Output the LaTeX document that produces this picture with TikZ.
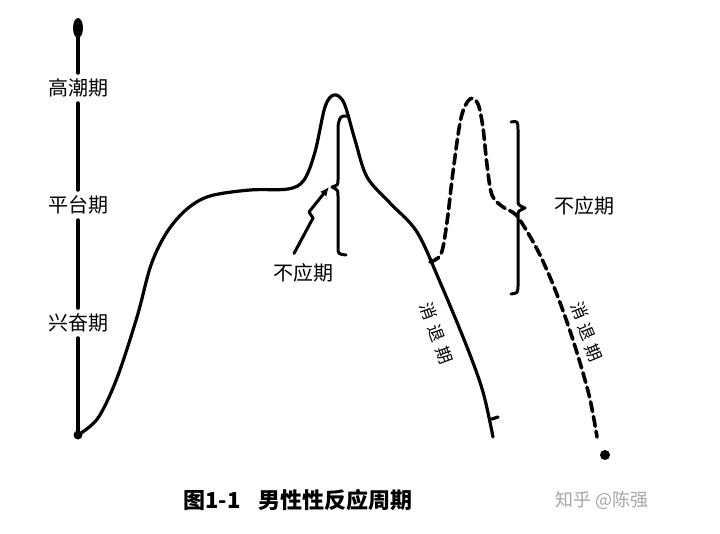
\documentclass[tikz,border=0pt]{standalone}
\usepackage{fontspec}
\setmainfont{Noto Sans CJK SC}
\usetikzlibrary{arrows.meta,positioning}

\begin{document}
\begin{tikzpicture}[x=1pt,y=-1pt,
  curve/.style={line width=3.2pt, line cap=round, line join=round},
  dashcurve/.style={curve, line width=3.6pt, dash pattern=on 10pt off 5pt},
  axis/.style={line width=4.5pt, line cap=round},
  brace/.style={line width=3pt, line cap=round, line join=round},
  phase/.style={font=\fontsize{20}{20}\selectfont, inner sep=6pt},
  lbl/.style={font=\fontsize{20}{20}\selectfont, inner sep=1pt},
  fade/.style={font=\fontsize{17}{17}\selectfont, inner sep=0pt}
]
  \useasboundingbox (0,0) rectangle (720,533);

  % axis with phase names
  \coordinate (top) at (78,28);
  \coordinate (o)   at (78,435);
  \node[phase] (gc) at (78,88)  {高潮期};
  \node[phase] (pt) at (78,205) {平台期};
  \node[phase] (xf) at (78,323) {兴奋期};
  \draw[axis] (top) -- (gc.north);
  \draw[axis] (gc.south) -- (pt.north);
  \draw[axis] (pt.south) -- (xf.north);
  \draw[axis] (xf.south) -- (o);
  \fill (top) ellipse (5 and 10);
  \fill (o) circle (4.5);

  % first cycle
  \draw[curve] plot[smooth, tension=0.55] coordinates {
    (78,435) (98,418) (117,378) (137,317) (151,265) (167,232) (187,209)
    (210,196) (250,190) (288,189) (304,180) (315,152) (325,107) (334,95)
    (344,103) (355,140) (367,177) (390,203) (417,232) (440,282) (467,347)
    (483,392) (493,437)};
  \draw[curve] (492,419) -- (498,417);

  % second cycle (dashed)
  \draw[dashcurve] plot[smooth, tension=0.55] coordinates {
    (430,262) (441,254) (447,222) (453,172) (461,118) (470,99) (478,104)
    (483,128) (487,165) (492,195) (503,207) (515,214) (525,228) (540,255)
    (556,292) (573,340) (589,395) (597,437)};
  \fill (605,455) circle (5);

  % refractory braces
  \draw[brace] (348,116) .. controls (340,116) .. (338,126) -- (338,180)
    .. controls (338,185) .. (332,187) .. controls (338,190) .. (338,196)
    -- (338,247) .. controls (338,254) .. (346,255);
  \draw[brace] (511,122) .. controls (518,121) .. (518,131) -- (518,200)
    .. controls (518,205) .. (525,208) .. controls (518,211) .. (518,216)
    -- (518,285) .. controls (518,293) .. (511,294);

  \node[lbl] (bu1) at (303,273) {不应期};
  \node[lbl] (bu2) at (584,206) {不应期};
  \coordinate (tip1) at (329,187);
  \draw[brace, -{Latex[length=9pt,width=8pt]}] (bu1.north) ++(-9,-9) -- (313,218)
    -- (309,212) -- (tip1);

  % resolution labels, one glyph at a time
  \foreach \ch/\px/\py [count=\i] in {消/428/311, 退/436/333, 期/444/355}
    \node[fade, rotate=-70] (xa\i) at (\px,\py) {\ch};
  \foreach \ch/\px/\py [count=\i] in {消/580/311, 退/587/332, 期/594/353}
    \node[fade, rotate=-67] (xb\i) at (\px,\py) {\ch};

  % caption
  \node[anchor=west, font=\fontsize{22}{22}\selectfont\bfseries] (cap) at (180,500)
    {图1-1\hspace{0.8em}男性性反应周期};
  \node[anchor=west, text=black!35, font=\fontsize{18}{18}\selectfont] (wm) at (552,500)
    {知乎 @陈强};
\end{tikzpicture}
\end{document}
